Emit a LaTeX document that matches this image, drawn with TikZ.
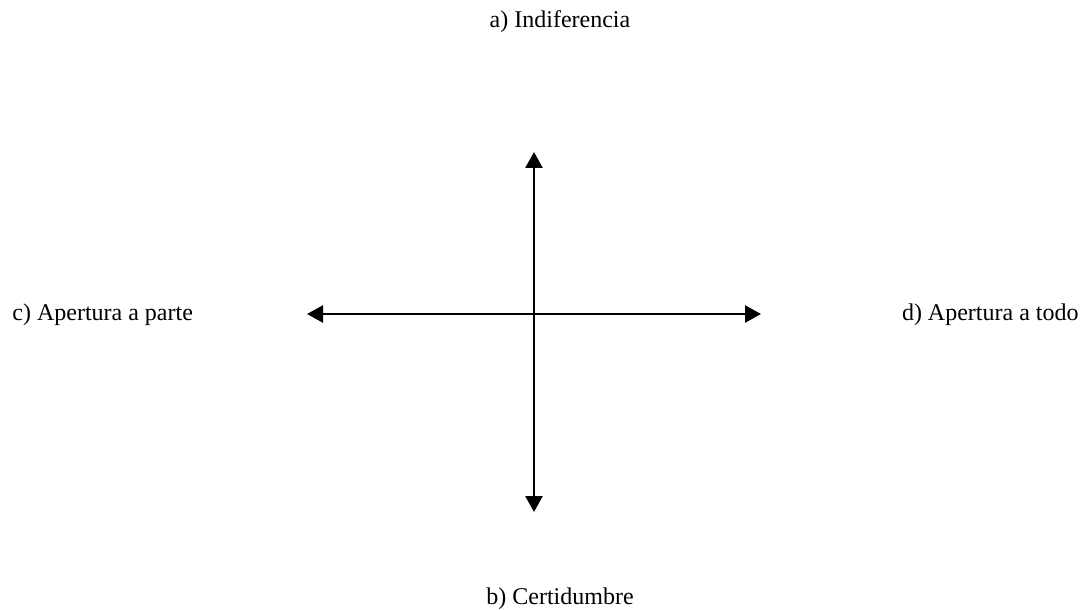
\documentclass[tikz,border=0pt]{standalone}
\usepackage{fontspec}
\setmainfont{Liberation Serif}
\usetikzlibrary{arrows.meta}
\begin{document}
\begin{tikzpicture}[x=0.5pt, y=-0.5pt, font=\fontsize{12}{14}\selectfont,
	axis/.style={{Triangle[length=8pt,width=8.5pt]}-{Triangle[length=8pt,width=8.5pt]}, line width=1.3pt}]
\useasboundingbox (0,0) rectangle (1083,610);
\coordinate (top) at (534,152);
\coordinate (bottom) at (534,512);
\coordinate (left) at (307,314);
\coordinate (right) at (761,314);
\draw[axis] (bottom) -- (top);
\draw[axis] (left) -- (right);
\node (indif) at (560,22) {a) Indiferencia};
\node (certi) at (560,599) {b) Certidumbre};
\node[anchor=west, inner sep=0pt] (parte) at (12,315) {c) Apertura a parte};
\node[anchor=east, inner sep=0pt] (todo) at (1079,315) {d) Apertura a todo};
\end{tikzpicture}
\end{document}
